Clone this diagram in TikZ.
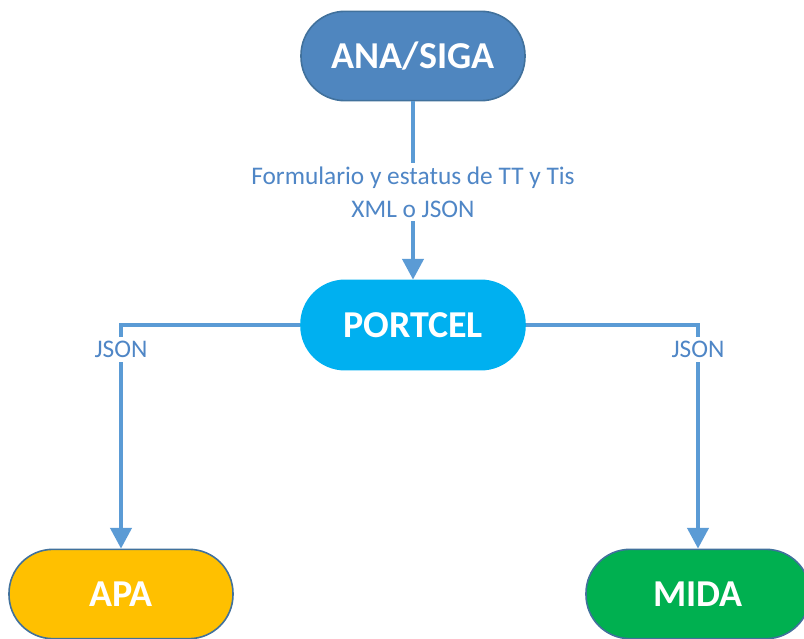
\documentclass[tikz,border=0pt]{standalone}
\usepackage{fontspec}
\setmainfont{Carlito}
\usetikzlibrary{arrows.meta}

\definecolor{anafill}{HTML}{4F86BF}
\definecolor{portfill}{HTML}{00B0F0}
\definecolor{apafill}{HTML}{FFC000}
\definecolor{midafill}{HTML}{00B050}
\definecolor{pillborder}{HTML}{41719C}
\definecolor{flowblue}{HTML}{5B9BD5}
\definecolor{labelblue}{HTML}{4F86C6}

\tikzset{
    pill/.style={draw=pillborder, line width=1.2pt, rounded corners=33pt,
        minimum width=168pt, minimum height=67pt, text=white,
        font=\bfseries\fontsize{28.5}{34}\selectfont},
    flow/.style={draw=flowblue, line width=2.4pt,
        -{Triangle[width=16pt,length=15.5pt]}},
    flowlabel/.style={fill=white, text=labelblue, align=center, inner sep=3pt,
        font=\fontsize{19}{24.5}\selectfont},
}

\begin{document}
\begin{tikzpicture}[x=0.75pt,y=-0.75pt]
    \useasboundingbox (0,0) rectangle (804,639);
    % servicios
    \node[pill, fill=anafill] (ana) at (413,56) {ANA/SIGA};
    \node[pill, fill=portfill, draw=portfill] (portcel) at (413,325) {PORTCEL};
    \node[pill, fill=apafill] (apa) at (121,594) {APA};
    \node[pill, fill=midafill] (mida) at (698,594) {MIDA};
    % flujos
    \draw[flow] (ana) -- (portcel)
        node[flowlabel, pos=0.51] {Formulario y estatus de TT y Tis\\XML o JSON};
    \draw[flow] (portcel.west) -| (apa.north)
        node[flowlabel, pos=0.555, inner sep=3pt] {JSON};
    \draw[flow] (portcel.east) -| (mida.north)
        node[flowlabel, pos=0.555, inner sep=3pt] {JSON};
\end{tikzpicture}
\end{document}
